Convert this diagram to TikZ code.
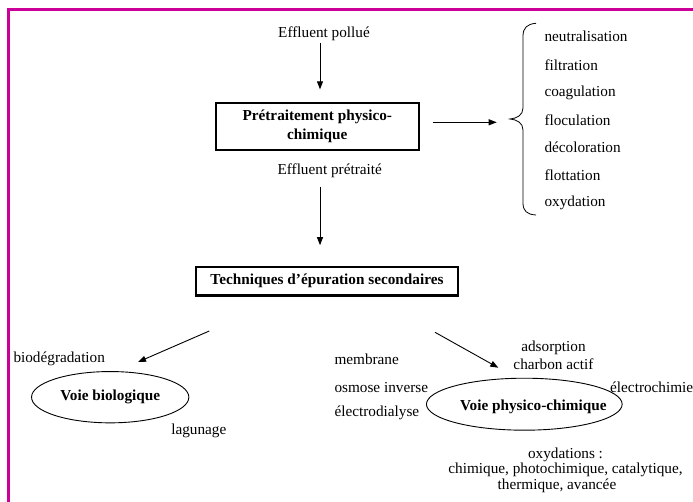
\documentclass[tikz,border=0pt]{standalone}
\usepackage{fontspec}
\setmainfont{Liberation Serif}
\usetikzlibrary{arrows.meta,shapes.geometric}
\definecolor{framemag}{RGB}{204,0,153}
\begin{document}
\begin{tikzpicture}[x=1pt,y=-1pt,
  every node/.style={inner sep=0pt, font=\fontsize{15.25}{17}\selectfont},
  procbox/.style={draw, line width=2.2pt, align=center, font=\fontsize{15.25}{19}\bfseries\selectfont},
  boldtxt/.style={font=\fontsize{15.25}{17}\bfseries\selectfont},
  wayell/.style={draw, ellipse, line width=0.9pt, font=\fontsize{15.25}{17}\bfseries\selectfont},
  arr/.style={line width=0.9pt, -{Triangle[length=8pt,width=6pt]}},
  item/.style={anchor=west},
]
\useasboundingbox (0,0) rectangle (693,502);
\draw[framemag, line width=2.5pt] (693,9.5) -- (8.3,9.5) -- (8.3,502);

% top chain
\node (ep) at (324,33.3) {Effluent pollué};
\node[procbox, minimum width=203pt, minimum height=46.5pt] (pre) at (317.3,126.4) {Prétraitement physico-\\chimique};
\node (ept) at (329.7,170.7) {Effluent prétraité};
\node[procbox, minimum width=262.4pt, minimum height=28.8pt] (tech) at (327,281.2) {Techniques d’épuration secondaires};

\draw[arr, shorten <=2.5pt, shorten >=12.7pt] ([xshift=-4pt]ep.south) -- ([xshift=-4pt]ep.south |- pre.north);
\draw[arr, shorten <=9pt, shorten >=20.5pt] ([xshift=-9.7pt]ept.south) -- ([xshift=-9.7pt]ept.south |- tech.north);

% brace and list
\coordinate (btip) at (510,122.3);
\draw[arr, shorten <=12.9pt, shorten >=13.3pt] (pre.east |- btip) -- (btip);
\draw[line width=0.8pt] (536,23.3) .. controls (527,24) and (523,28) .. (523,36) -- (523,108)
  .. controls (523,115) and (517,118.5) .. (510,119)
  .. controls (517,119.5) and (523,123) .. (523,130) -- (523,203)
  .. controls (523,211) and (527,214.5) .. (536,215);
\node[item] (i1) at (544.3,36.7) {neutralisation};
\node[item] (i2) at (544.3,65) {filtration};
\node[item] (i3) at (544.3,92.7) {coagulation};
\node[item] (i4) at (544.3,120) {floculation};
\node[item] (i5) at (544.3,147.7) {décoloration};
\node[item] (i6) at (544.3,175) {flottation};
\node[item] (i7) at (544.3,202.7) {oxydation};

% biological way
\coordinate (l0) at (209.3,331);
\coordinate (l1) at (138,362);
\draw[arr] (l0) -- (l1);
\node[item] (bio) at (13.3,359.3) {biodégradation};
\node[wayell, minimum width=157.3pt, minimum height=51.3pt] (vb) at (110.2,397.2) {Voie biologique};
\node (lag) at (198.8,430.7) {lagunage};

% physico-chemical way
\coordinate (r0) at (435,332.3);
\coordinate (r1) at (498.3,367.7);
\draw[arr] (r0) -- (r1);
\node[align=center, font=\fontsize{15.25}{17.6}\selectfont] (ads) at (553.5,355.5) {adsorption\\charbon actif};
\node[item] (mem) at (334.3,359.3) {membrane};
\node[item] (osm) at (334.3,387.3) {osmose inverse};
\node[item] (eld) at (334.3,413.3) {électrodialyse};
\node[wayell, minimum width=195.7pt, minimum height=52pt] (vpc) at (524.3,404.2) {};
\node[boldtxt] (vpct) at ([xshift=9pt,yshift=-2.5pt]vpc.center) {Voie physico-chimique};
\node[item] (elc) at (610,387.3) {électrochimie};
\node[align=center, font=\fontsize{15.25}{15.5}\selectfont] (oxy) at (565.5,470) {oxydations :\\chimique, photochimique, catalytique,\\thermique, avancée\hspace*{17pt}};
\end{tikzpicture}
\end{document}
